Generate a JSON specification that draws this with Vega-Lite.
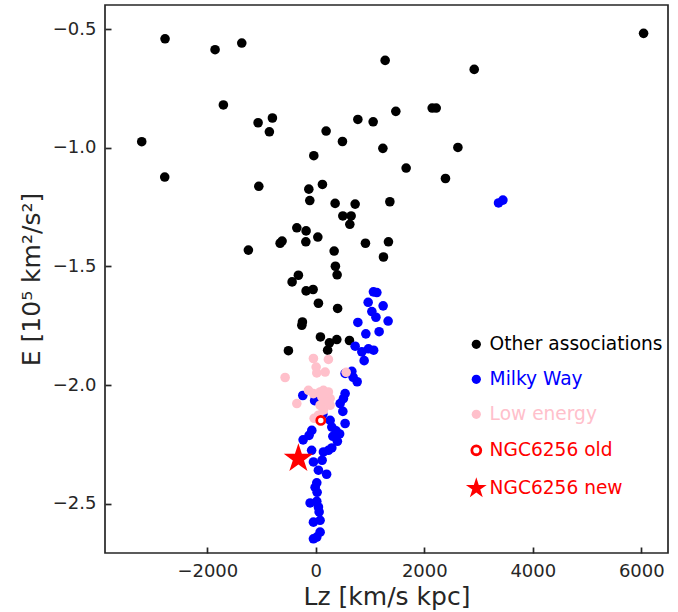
{
  "$schema": "https://vega.github.io/schema/vega-lite/v6.json",
  "autosize": "none",
  "width": 563,
  "height": 548,
  "padding": {"left": 105, "top": 5, "right": 10, "bottom": 59},
  "background": "white",
  "config": {
    "font": "DejaVu Sans",
    "view": {"stroke": "#262626", "strokeWidth": 1.7},
    "axis": {
      "grid": false,
      "domain": false,
      "labelFont": "DejaVu Sans",
      "labelFontSize": 18,
      "labelColor": "#262626",
      "titleFont": "DejaVu Sans",
      "titleFontSize": 25,
      "titleFontWeight": "normal",
      "titleColor": "#262626",
      "tickColor": "#262626",
      "tickWidth": 1.7,
      "tickSize": -6,
      "labelPadding": 15
    }
  },
  "data": {
    "values": [
      {"Lz": -2779, "E": -0.540, "group": "Other associations"},
      {"Lz": -1857, "E": -0.586, "group": "Other associations"},
      {"Lz": -1365, "E": -0.558, "group": "Other associations"},
      {"Lz": -1704, "E": -0.819, "group": "Other associations"},
      {"Lz": -1064, "E": -0.894, "group": "Other associations"},
      {"Lz": -800, "E": -0.874, "group": "Other associations"},
      {"Lz": -856, "E": -0.932, "group": "Other associations"},
      {"Lz": 190, "E": -0.929, "group": "Other associations"},
      {"Lz": -3209, "E": -0.974, "group": "Other associations"},
      {"Lz": -37, "E": -1.033, "group": "Other associations"},
      {"Lz": -2785, "E": -1.123, "group": "Other associations"},
      {"Lz": -1051, "E": -1.162, "group": "Other associations"},
      {"Lz": -129, "E": -1.174, "group": "Other associations"},
      {"Lz": 122, "E": -1.154, "group": "Other associations"},
      {"Lz": -111, "E": -1.222, "group": "Other associations"},
      {"Lz": 6042, "E": -0.517, "group": "Other associations"},
      {"Lz": 1278, "E": -0.631, "group": "Other associations"},
      {"Lz": 2920, "E": -0.669, "group": "Other associations"},
      {"Lz": 1475, "E": -0.846, "group": "Other associations"},
      {"Lz": 2145, "E": -0.832, "group": "Other associations"},
      {"Lz": 2219, "E": -0.832, "group": "Other associations"},
      {"Lz": 775, "E": -0.880, "group": "Other associations"},
      {"Lz": 1057, "E": -0.890, "group": "Other associations"},
      {"Lz": 491, "E": -0.973, "group": "Other associations"},
      {"Lz": 1236, "E": -1.002, "group": "Other associations"},
      {"Lz": 2619, "E": -0.998, "group": "Other associations"},
      {"Lz": 1665, "E": -1.085, "group": "Other associations"},
      {"Lz": 2390, "E": -1.129, "group": "Other associations"},
      {"Lz": 356, "E": -1.234, "group": "Other associations"},
      {"Lz": 725, "E": -1.237, "group": "Other associations"},
      {"Lz": 1365, "E": -1.227, "group": "Other associations"},
      {"Lz": 498, "E": -1.287, "group": "Other associations"},
      {"Lz": 651, "E": -1.287, "group": "Other associations"},
      {"Lz": 627, "E": -1.322, "group": "Other associations"},
      {"Lz": -350, "E": -1.337, "group": "Other associations"},
      {"Lz": -179, "E": -1.350, "group": "Other associations"},
      {"Lz": -658, "E": -1.402, "group": "Other associations"},
      {"Lz": -622, "E": -1.393, "group": "Other associations"},
      {"Lz": -184, "E": -1.396, "group": "Other associations"},
      {"Lz": 37, "E": -1.376, "group": "Other associations"},
      {"Lz": -1243, "E": -1.431, "group": "Other associations"},
      {"Lz": 338, "E": -1.435, "group": "Other associations"},
      {"Lz": 915, "E": -1.402, "group": "Other associations"},
      {"Lz": 1339, "E": -1.396, "group": "Other associations"},
      {"Lz": 1247, "E": -1.460, "group": "Other associations"},
      {"Lz": 361, "E": -1.499, "group": "Other associations"},
      {"Lz": 393, "E": -1.535, "group": "Other associations"},
      {"Lz": -321, "E": -1.537, "group": "Other associations"},
      {"Lz": -437, "E": -1.565, "group": "Other associations"},
      {"Lz": -179, "E": -1.603, "group": "Other associations"},
      {"Lz": -50, "E": -1.597, "group": "Other associations"},
      {"Lz": 48, "E": -1.655, "group": "Other associations"},
      {"Lz": 402, "E": -1.677, "group": "Other associations"},
      {"Lz": -247, "E": -1.734, "group": "Other associations"},
      {"Lz": -258, "E": -1.748, "group": "Other associations"},
      {"Lz": 85, "E": -1.797, "group": "Other associations"},
      {"Lz": 251, "E": -1.822, "group": "Other associations"},
      {"Lz": 387, "E": -1.808, "group": "Other associations"},
      {"Lz": 218, "E": -1.853, "group": "Other associations"},
      {"Lz": 620, "E": -1.812, "group": "Other associations"},
      {"Lz": -505, "E": -1.855, "group": "Other associations"},
      {"Lz": 3368, "E": -1.232, "group": "Milky Way"},
      {"Lz": 3449, "E": -1.220, "group": "Milky Way"},
      {"Lz": 1062, "E": -1.607, "group": "Milky Way"},
      {"Lz": 1125, "E": -1.610, "group": "Milky Way"},
      {"Lz": 965, "E": -1.651, "group": "Milky Way"},
      {"Lz": 1241, "E": -1.666, "group": "Milky Way"},
      {"Lz": 1033, "E": -1.690, "group": "Milky Way"},
      {"Lz": 1108, "E": -1.714, "group": "Milky Way"},
      {"Lz": 1333, "E": -1.730, "group": "Milky Way"},
      {"Lz": 775, "E": -1.736, "group": "Milky Way"},
      {"Lz": 1167, "E": -1.775, "group": "Milky Way"},
      {"Lz": 922, "E": -1.784, "group": "Milky Way"},
      {"Lz": 725, "E": -1.836, "group": "Milky Way"},
      {"Lz": 848, "E": -1.860, "group": "Milky Way"},
      {"Lz": 970, "E": -1.847, "group": "Milky Way"},
      {"Lz": 1066, "E": -1.853, "group": "Milky Way"},
      {"Lz": 891, "E": -1.897, "group": "Milky Way"},
      {"Lz": 540, "E": -1.951, "group": "Milky Way"},
      {"Lz": 664, "E": -1.942, "group": "Milky Way"},
      {"Lz": 688, "E": -1.967, "group": "Milky Way"},
      {"Lz": 762, "E": -1.986, "group": "Milky Way"},
      {"Lz": -240, "E": -2.044, "group": "Milky Way"},
      {"Lz": -22, "E": -2.066, "group": "Milky Way"},
      {"Lz": 540, "E": -2.036, "group": "Milky Way"},
      {"Lz": 509, "E": -2.057, "group": "Milky Way"},
      {"Lz": 448, "E": -2.078, "group": "Milky Way"},
      {"Lz": 498, "E": -2.111, "group": "Milky Way"},
      {"Lz": 129, "E": -2.123, "group": "Milky Way"},
      {"Lz": 264, "E": -2.149, "group": "Milky Way"},
      {"Lz": 295, "E": -2.177, "group": "Milky Way"},
      {"Lz": 540, "E": -2.162, "group": "Milky Way"},
      {"Lz": 374, "E": -2.193, "group": "Milky Way"},
      {"Lz": 439, "E": -2.206, "group": "Milky Way"},
      {"Lz": 314, "E": -2.216, "group": "Milky Way"},
      {"Lz": 398, "E": -2.237, "group": "Milky Way"},
      {"Lz": -74, "E": -2.191, "group": "Milky Way"},
      {"Lz": -124, "E": -2.212, "group": "Milky Way"},
      {"Lz": -234, "E": -2.231, "group": "Milky Way"},
      {"Lz": -77, "E": -2.275, "group": "Milky Way"},
      {"Lz": 140, "E": -2.282, "group": "Milky Way"},
      {"Lz": 232, "E": -2.275, "group": "Milky Way"},
      {"Lz": 295, "E": -2.265, "group": "Milky Way"},
      {"Lz": 116, "E": -2.317, "group": "Milky Way"},
      {"Lz": -44, "E": -2.324, "group": "Milky Way"},
      {"Lz": 48, "E": -2.359, "group": "Milky Way"},
      {"Lz": 199, "E": -2.376, "group": "Milky Way"},
      {"Lz": 18, "E": -2.412, "group": "Milky Way"},
      {"Lz": -13, "E": -2.431, "group": "Milky Way"},
      {"Lz": 24, "E": -2.452, "group": "Milky Way"},
      {"Lz": -105, "E": -2.497, "group": "Milky Way"},
      {"Lz": 18, "E": -2.490, "group": "Milky Way"},
      {"Lz": 48, "E": -2.514, "group": "Milky Way"},
      {"Lz": 61, "E": -2.535, "group": "Milky Way"},
      {"Lz": -44, "E": -2.578, "group": "Milky Way"},
      {"Lz": 79, "E": -2.570, "group": "Milky Way"},
      {"Lz": -44, "E": -2.648, "group": "Milky Way"},
      {"Lz": 79, "E": -2.620, "group": "Milky Way"},
      {"Lz": 18, "E": -2.641, "group": "Milky Way"},
      {"Lz": -44, "E": -1.888, "group": "Low energy"},
      {"Lz": 232, "E": -1.892, "group": "Low energy"},
      {"Lz": 6, "E": -1.924, "group": "Low energy"},
      {"Lz": 18, "E": -1.949, "group": "Low energy"},
      {"Lz": 172, "E": -1.945, "group": "Low energy"},
      {"Lz": -566, "E": -1.968, "group": "Low energy"},
      {"Lz": 559, "E": -1.946, "group": "Low energy"},
      {"Lz": -136, "E": -2.022, "group": "Low energy"},
      {"Lz": -44, "E": -2.036, "group": "Low energy"},
      {"Lz": 79, "E": -2.029, "group": "Low energy"},
      {"Lz": 140, "E": -2.022, "group": "Low energy"},
      {"Lz": 232, "E": -2.029, "group": "Low energy"},
      {"Lz": 111, "E": -2.050, "group": "Low energy"},
      {"Lz": 264, "E": -2.057, "group": "Low energy"},
      {"Lz": 203, "E": -2.071, "group": "Low energy"},
      {"Lz": 79, "E": -2.085, "group": "Low energy"},
      {"Lz": 264, "E": -2.085, "group": "Low energy"},
      {"Lz": 140, "E": -2.106, "group": "Low energy"},
      {"Lz": -350, "E": -2.078, "group": "Low energy"},
      {"Lz": 48, "E": -2.127, "group": "Low energy"},
      {"Lz": -31, "E": -2.140, "group": "Low energy"},
      {"Lz": 92, "E": -2.149, "group": "NGC6256 old"},
      {"Lz": -321, "E": -2.310, "group": "NGC6256 new"}
    ]
  },
  "mark": {"type": "point", "filled": true, "opacity": 1},
  "encoding": {
    "x": {
      "field": "Lz", "type": "quantitative",
      "scale": {"domain": [-3886, 6492], "nice": false, "zero": false},
      "axis": {"title": "Lz [km/s kpc]", "values": [-2000, 0, 2000, 4000, 6000], "format": ".0f", "titlePadding": 4}
    },
    "y": {
      "field": "E", "type": "quantitative",
      "scale": {"domain": [-2.708, -0.3975], "nice": false, "zero": false},
      "axis": {"title": "E [10⁵ km²/s²]", "values": [-2.5, -2, -1.5, -1, -0.5], "format": ".1f", "titlePadding": 8}
    },
    "color": {
      "field": "group", "type": "nominal",
      "scale": {
        "domain": ["Other associations", "Milky Way", "Low energy", "NGC6256 old", "NGC6256 new"],
        "range": ["black", "blue", "pink", "white", "red"]
      },
      "legend": {
        "title": null,
        "orient": "none",
        "legendX": 362,
        "legendY": 330,
        "padding": 0,
        "labelFont": "DejaVu Sans",
        "labelFontSize": 18.6,
        "labelLimit": 400,
        "rowPadding": 16,
        "labelOffset": 4,
        "symbolType": {"expr": "datum.value === 'NGC6256 new' ? 'M0,-1L0.2245,-0.309L0.9511,-0.309L0.3633,0.118L0.5878,0.809L0,0.382L-0.5878,0.809L-0.3633,0.118L-0.9511,-0.309L-0.2245,-0.309Z' : 'circle'"},
        "symbolSize": {"expr": "datum.value === 'NGC6256 new' ? 480 : datum.value === 'NGC6256 old' ? 80 : 85"},
        "symbolStrokeColor": {"expr": "datum.value === 'NGC6256 old' ? 'red' : 'transparent'"},
        "symbolStrokeWidth": {"expr": "datum.value === 'NGC6256 old' ? 2.8 : 0"},
        "symbolOpacity": 1,
        "labelColor": {"expr": "datum.value === 'Other associations' ? 'black' : datum.value === 'Milky Way' ? 'blue' : datum.value === 'Low energy' ? 'pink' : 'red'"}
      }
    },
    "stroke": {
      "condition": {"test": "datum.group === 'NGC6256 old'", "value": "red"},
      "value": "transparent"
    },
    "strokeWidth": {
      "condition": {"test": "datum.group === 'NGC6256 old'", "value": 2.7},
      "value": 0
    },
    "size": {
      "condition": [
        {"test": "datum.group === 'NGC6256 new'", "value": 950},
        {"test": "datum.group === 'NGC6256 old'", "value": 66}
      ],
      "value": 92
    },
    "shape": {
      "condition": {"test": "datum.group === 'NGC6256 new'", "value": "M0,-1L0.2245,-0.309L0.9511,-0.309L0.3633,0.118L0.5878,0.809L0,0.382L-0.5878,0.809L-0.3633,0.118L-0.9511,-0.309L-0.2245,-0.309Z"},
      "value": "circle"
    }
  }
}
